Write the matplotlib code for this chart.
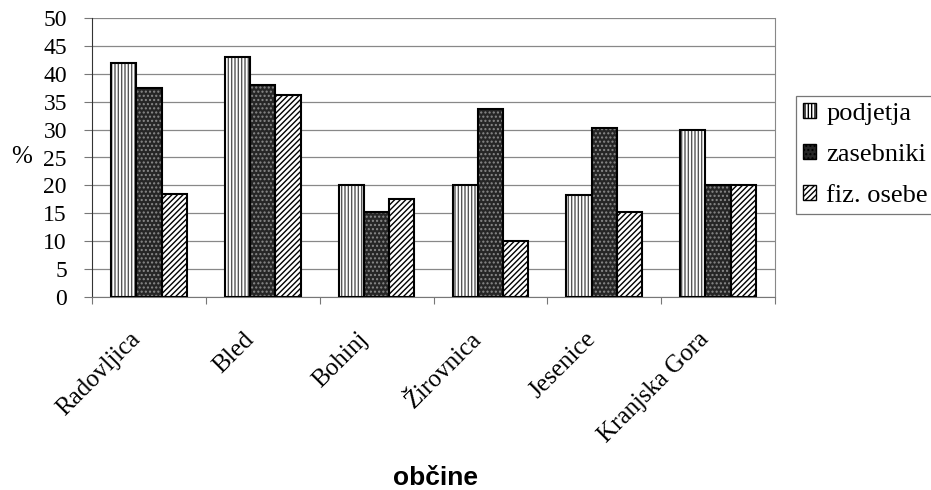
import matplotlib
matplotlib.use("Agg")
import matplotlib.pyplot as plt
from matplotlib.patches import Patch
from matplotlib import transforms
import numpy as np

categories = ["Radovljica", "Bled", "Bohinj", "Žirovnica", "Jesenice", "Kranjska Gora"]
podjetja = [42, 43, 20, 20, 18.3, 30]
zasebniki = [37.5, 38, 15.2, 33.7, 30.3, 20]
fiz_osebe = [18.5, 36.2, 17.6, 10, 15.2, 20]
series_names = ["podjetja", "zasebniki", "fiz. osebe"]
yticks = list(range(0, 55, 5))

serif = ["Liberation Serif", "DejaVu Serif"]
plt.rcParams['hatch.linewidth'] = 1.0

fig = plt.figure(figsize=(9.31, 4.9), dpi=100)
ax = fig.add_axes([92/931, 1-297/490, (775-92)/931, (297-18)/490])

x = np.arange(len(categories))
w = 0.222
styles = [
    dict(face="white", hatch="|||||", hcolor="#555555"),
    dict(face="#262626", hatch="....", hcolor="#8a8a8a"),
    dict(face="white", hatch="//////", hcolor="black"),
]
for i, vals in enumerate([podjetja, zasebniki, fiz_osebe]):
    pos = x + (i - 1) * w
    st = styles[i]
    ax.bar(pos, vals, w, color=st["face"], hatch=st["hatch"], edgecolor=st["hcolor"], linewidth=0, zorder=3)
    ax.bar(pos, vals, w, fill=False, edgecolor="black", linewidth=1.5, zorder=4)

ax.set_xlim(-0.5, len(categories) - 0.5)
ax.set_ylim(0, 50)
ax.set_yticks(yticks)
ax.set_yticklabels([str(t) for t in yticks], fontfamily=serif, fontsize=17)
ax.set_xticks(np.arange(len(categories) + 1) - 0.5)
ax.set_xticklabels([])
ax.tick_params(axis='x', length=5, color="#777777", direction='out')
ax.tick_params(axis='y', length=6, color="#777777", pad=12)
ax.yaxis.grid(True, color="#888888", linewidth=0.9, zorder=0)
ax.set_axisbelow(True)
ax.spines["top"].set_visible(False)
ax.spines["right"].set_color("#888888")
ax.spines["left"].set_color("#333333")
ax.spines["bottom"].set_color("#777777")

lab_tr = transforms.offset_copy(ax.transData, fig=fig, x=-20, y=-31, units='dots')
for xi, name in zip(x, categories):
    ax.text(xi, 0, name, rotation=45, rotation_mode='anchor', ha='right', va='top',
            fontfamily=serif, fontsize=18, transform=lab_tr, clip_on=False)

fig.text(435/931, 1-478/490, "občine", ha='center', va='center', fontfamily="Liberation Sans",
         fontweight='bold', fontsize=19)
fig.text(22/931, 1-157/490, "%", ha='center', va='center', fontfamily=serif, fontsize=18)

handles = [Patch(facecolor=st["face"], hatch=st["hatch"], edgecolor="black", linewidth=1.0) for st in styles]
leg = fig.legend(handles, series_names, loc='center left', bbox_to_anchor=(796/931, 1-155/490),
                 prop={'family': serif, 'size': 19}, frameon=True, fancybox=False,
                 edgecolor="#555555", handlelength=0.5, handleheight=0.5, handletextpad=0.4,
                 borderpad=0.25, labelspacing=0.72, borderaxespad=0)
leg.get_frame().set_linewidth(0.9)

fig.savefig("out.png", dpi=100)
